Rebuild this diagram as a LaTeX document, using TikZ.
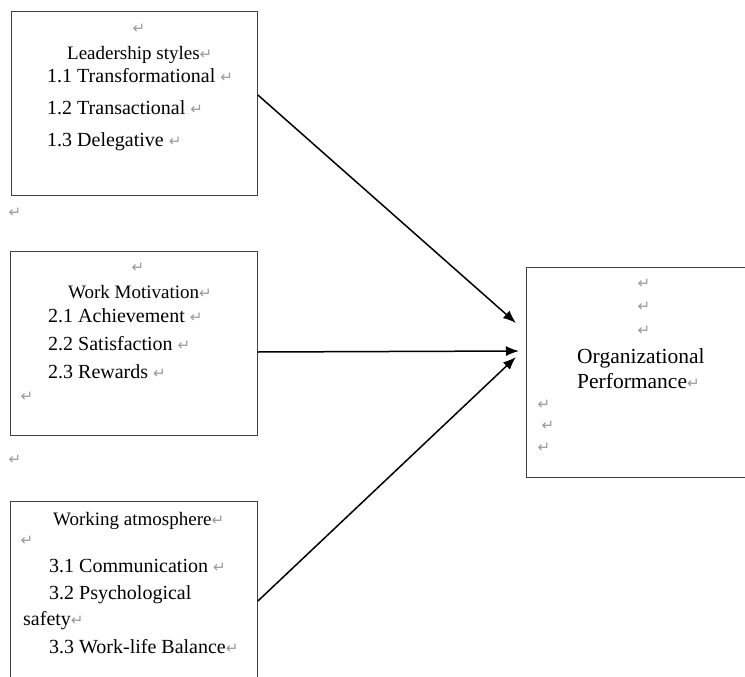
\documentclass[tikz,border=0pt]{standalone}
\usepackage{fontspec}
\setmainfont{Liberation Serif}
\newfontfamily\djv{DejaVu Sans}
\usetikzlibrary{arrows.meta,calc}
\definecolor{markgray}{gray}{0.6}
\definecolor{boxline}{gray}{0.25}
\newcommand{\retm}{{\djv\fontsize{15bp}{15bp}\selectfont\color{markgray}↵}}
\tikzset{
  box/.style={draw=boxline, line width=0.9bp, anchor=north west, inner sep=0pt},
  txt/.style={inner sep=0pt, anchor=base west, font=\fontsize{20bp}{24bp}\selectfont},
  ttl/.style={inner sep=0pt, anchor=base west, font=\fontsize{19bp}{23bp}\selectfont},
  big/.style={inner sep=0pt, anchor=base west, font=\fontsize{21.5bp}{26bp}\selectfont},
  mk/.style={inner sep=0pt, anchor=center},
  arr/.style={line width=1.5bp, -{Latex[length=13bp,width=10bp]}}
}
\begin{document}
\begin{tikzpicture}[x=1bp,y=-1bp]
\useasboundingbox (0,0) rectangle (745,677);
% boxes
\node[box, minimum width=246bp, minimum height=184bp] (lead) at (11,11) {};
\node[box, minimum width=247bp, minimum height=184bp] (mot) at (10,251) {};
\node[box, minimum width=247bp, minimum height=200bp] (atm) at (10,501) {};
\node[box, minimum width=230bp, minimum height=210bp] (perf) at (526,267) {};
% box 1
\node[mk] (l0) at (139,29) {\retm};
\node[ttl] (l1) at (67,60) {Leadership styles\retm};
\node[txt] (l2) at (47,83) {1.1 Transformational \retm};
\node[txt] (l3) at (47,115) {1.2 Transactional \retm};
\node[txt] (l4) at (47,147) {1.3 Delegative \retm};
\node[mk] (m1) at (15,213) {\retm};
% box 2
\node[mk] (w0) at (138,268) {\retm};
\node[ttl] (w1) at (68,298) {Work Motivation\retm};
\node[txt] (w2) at (48,322) {2.1 Achievement \retm};
\node[txt] (w3) at (48,350) {2.2 Satisfaction \retm};
\node[txt] (w4) at (48,378) {2.3 Rewards \retm};
\node[mk] (w5) at (27,397) {\retm};
\node[mk] (m2) at (15,460) {\retm};
% box 3
\node[ttl] (a1) at (53,525) {Working atmosphere\retm};
\node[mk] (a0) at (27,541) {\retm};
\node[txt] (a2) at (49,572) {3.1 Communication \retm};
\node[txt] (a3) at (49,599) {3.2 Psychological};
\node[txt] (a4) at (23,625) {safety\retm};
\node[txt] (a5) at (49,653) {3.3 Work-life Balance\retm};
% box 4
\node[mk] (p0) at (644,284) {\retm};
\node[mk] (p1) at (644,307) {\retm};
\node[mk] (p2) at (644,331) {\retm};
\node[big] (p3) at (577,363) {Organizational};
\node[big] (p4) at (577,388) {Performance\retm};
\node[mk] (p5) at (544,405) {\retm};
\node[mk] (p6) at (548,426) {\retm};
\node[mk] (p7) at (544,448) {\retm};
% connectors
\coordinate (s1) at ($(lead.north east)+(0,84)$);
\coordinate (s2) at ($(mot.north east)+(0,101)$);
\coordinate (s3) at ($(atm.north east)+(0,100)$);
\coordinate (e1) at ($(perf.north west)+(-10,56)$);
\coordinate (e2) at ($(perf.north west)+(-7,84)$);
\coordinate (e3) at ($(perf.north west)+(-10,90)$);
\draw[arr] (s1) -- (e1);
\draw[arr] (s2) -- (e2);
\draw[arr] (s3) -- (e3);
\end{tikzpicture}
\end{document}
